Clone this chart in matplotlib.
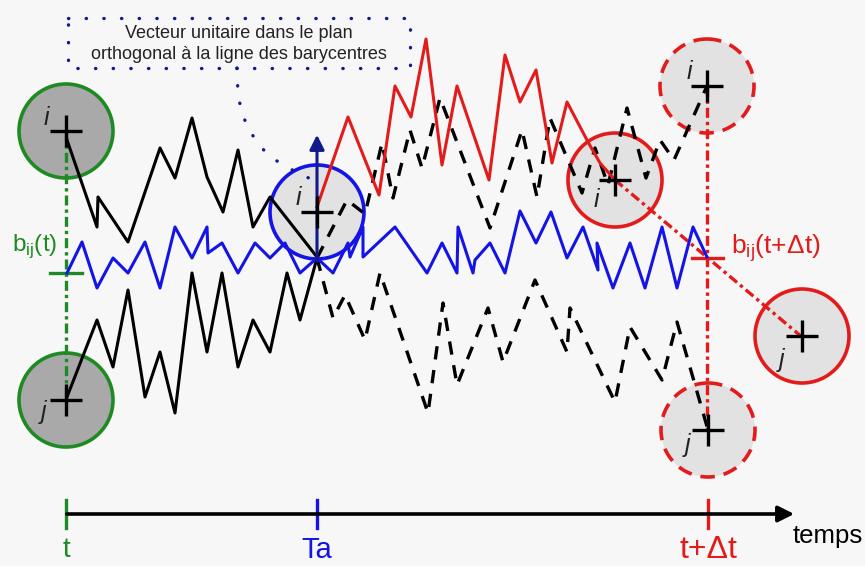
import numpy as np
import matplotlib
matplotlib.use('Agg')
from matplotlib import pyplot as plt
from matplotlib.patches import Circle, Rectangle

plt.rcParams['font.family'] = ['Liberation Sans', 'DejaVu Sans']
plt.rcParams['mathtext.fontset'] = 'custom'
plt.rcParams['mathtext.rm'] = 'Liberation Sans'

# diagram coordinates (pixel space of the reference)
black_up_x = [67, 97, 98, 128, 160, 175, 192, 207, 223, 238, 253, 270, 317]
black_up_y = [140, 227, 197, 242, 148, 178, 118, 177, 212, 150, 227, 197, 257]
black_lo_x = [67, 97, 113, 128, 145, 160, 175, 192, 207, 222, 238, 253, 270, 287, 300, 317]
black_lo_y = [397, 320, 367, 290, 397, 352, 413, 273, 352, 273, 367, 320, 352, 273, 320, 258]

blue_x = [67, 82, 97, 113, 128, 145, 160, 175, 192, 207, 208, 222, 238, 255, 270, 285, 300, 317,
          333, 348, 350, 363, 363, 395, 427, 442, 457, 458, 473, 475, 490, 505, 520, 536, 551,
          567, 583, 598, 597, 613, 630, 645, 662, 677, 693, 707]
blue_y = [273, 242, 288, 258, 273, 242, 288, 227, 258, 227, 253, 243, 273, 243, 258, 243, 273, 258,
          273, 243, 257, 227, 257, 227, 273, 243, 273, 227, 273, 260, 243, 273, 211, 243, 212,
          258, 227, 270, 243, 288, 243, 288, 227, 288, 227, 257]

red_x = [317, 348, 379, 395, 411, 426, 442, 457, 489, 505, 520, 536, 552, 567, 588, 600, 615]
red_y = [207, 117, 195, 86, 117, 39, 165, 86, 180, 55, 102, 70, 163, 102, 142, 163, 180]

dash_up_x = [317, 347, 365, 382, 393, 410, 422, 440, 490, 522, 537, 550, 582, 595, 608, 627, 646, 660, 674, 707]
dash_up_y = [258, 200, 214, 143, 198, 130, 168, 98, 228, 130, 197, 118, 193, 148, 185, 108, 178, 140, 160, 86]
dash_lo_x = [317, 333, 345, 365, 380, 428, 443, 457, 488, 503, 535, 567, 570, 615, 630, 662, 677, 708]
dash_lo_y = [258, 318, 295, 340, 273, 413, 303, 385, 308, 362, 280, 352, 308, 402, 327, 380, 322, 430]

conn_x = [237, 238, 242, 248, 257, 268, 283, 298, 313]
conn_y = [68, 95, 113, 128, 142, 155, 165, 173, 180]

# circles: centre, label, label offset
circ_x = [66, 66, 317, 615, 707, 708, 802]
circ_y = [131, 400, 212, 180, 86, 430, 336]
circ_lab = ['i', 'j', 'i', 'i', 'i', 'j', 'j']
lab_dx = [-20, -22, -19, -19, -18, -20, -20]
lab_dy = [-13, 12, -14, 20, -14, 15, 24]

green = '#1f8a24'
blue = '#1414e6'
navy = '#101a8c'
red = '#e31b1b'

fig = plt.figure(figsize=(8.65, 5.66), dpi=100)
fig.patch.set_facecolor('#f7f7f7')
ax = fig.add_axes([0, 0, 1, 1])
ax.set_xlim(0, 865)
ax.set_ylim(566, 0)
ax.axis('off')

# circles
styles = [
    dict(fc='#a9a9a9', ec=green, ls='-'),
    dict(fc='#a9a9a9', ec=green, ls='-'),
    dict(fc='#e2e2e2', ec=blue, ls='-'),
    dict(fc='#e2e2e2', ec=red, ls='-'),
    dict(fc='#e2e2e2', ec=red, ls=(0, (4, 2.5))),
    dict(fc='#e2e2e2', ec=red, ls=(0, (4, 2.5))),
    dict(fc='#e2e2e2', ec=red, ls='-'),
]
for k in range(len(circ_x)):
    st = styles[k]
    ax.add_patch(Circle((circ_x[k], circ_y[k]), 47, fc=st['fc'], ec=st['ec'],
                        ls=st['ls'], lw=2.6, zorder=1))

# guide lines
dashdot = (0, (3, 1.2, 1, 1.2))
ax.plot([66, 66], [131, 400], color=green, lw=2.4, ls=dashdot, zorder=2)
ax.plot([50, 82], [273, 273], color=green, lw=2.4, zorder=2)
ax.plot([707, 707], [86, 430], color=red, lw=2.4, ls=dashdot, zorder=2)
ax.plot([692, 723], [258, 258], color=red, lw=2.4, zorder=2)
ax.plot([615, 802], [180, 337], color=red, lw=2.4, ls=dashdot, zorder=2)

# trajectories
ax.plot(black_up_x, black_up_y, color='black', lw=2.2, zorder=3)
ax.plot(black_lo_x, black_lo_y, color='black', lw=2.2, zorder=3)
ax.plot(dash_up_x, dash_up_y, color='black', lw=2.4, ls=(0, (4, 3.2)), zorder=3)
ax.plot(dash_lo_x, dash_lo_y, color='black', lw=2.4, ls=(0, (4, 3.2)), zorder=3)
ax.plot(red_x, red_y, color=red, lw=2.2, zorder=4)
ax.plot(blue_x, blue_y, color=blue, lw=2.2, zorder=4)

# crosses and labels
for k in range(len(circ_x)):
    ax.plot(circ_x[k], circ_y[k], marker='+', ms=23, mew=2.4, color='black', zorder=6)
    ax.text(circ_x[k] + lab_dx[k], circ_y[k] + lab_dy[k], circ_lab[k], fontsize=18,
            style='italic', ha='center', va='center', color='#222222', zorder=6)

# unit vector arrow
ax.annotate('', xy=(317, 132), xytext=(317, 264),
            arrowprops=dict(arrowstyle='-|>', color=navy, lw=2.2, mutation_scale=22), zorder=5)

# annotation box
ax.add_patch(Rectangle((68, 18), 342, 50, fill=False, ec=navy, lw=2.4,
                       ls=(0, (0.1, 5.2)), capstyle='round', zorder=5))
ax.plot(conn_x, conn_y, color=navy, lw=2.4, ls=(0, (0.1, 5.2)),
        dash_capstyle='round', zorder=5)
ax.text(239, 44, 'Vecteur unitaire dans le plan\northogonal à la ligne des barycentres',
        fontsize=13, ha='center', va='center', color='#222222', linespacing=1.35)

ax.text(12, 246, r'b$_{\mathregular{ij}}$(t)', fontsize=17.5, color=green, va='center')
ax.text(731, 248, r'b$_{\mathregular{ij}}$(t+$\mathregular{\Delta}$t)', fontsize=19,
        color=red, va='center')

# time axis
ax.annotate('', xy=(797, 514), xytext=(64, 514),
            arrowprops=dict(arrowstyle='-|>', color='black', lw=2.6, mutation_scale=24))
tick_x = [66, 317, 708]
tick_lab = ['t', 'Ta', 't+Δt']
tick_col = [green, blue, red]
tick_fs = [20, 21, 23]
for xx, lab, cc, fs in zip(tick_x, tick_lab, tick_col, tick_fs):
    ax.plot([xx, xx], [500, 528], color=cc, lw=2.4)
    ax.text(xx, 550, lab, fontsize=fs, color=cc, ha='center', va='center')
ax.text(793, 536, 'temps', fontsize=18.5, color='black', ha='left', va='center')

plt.savefig('out.png', dpi=100, facecolor=fig.get_facecolor())
